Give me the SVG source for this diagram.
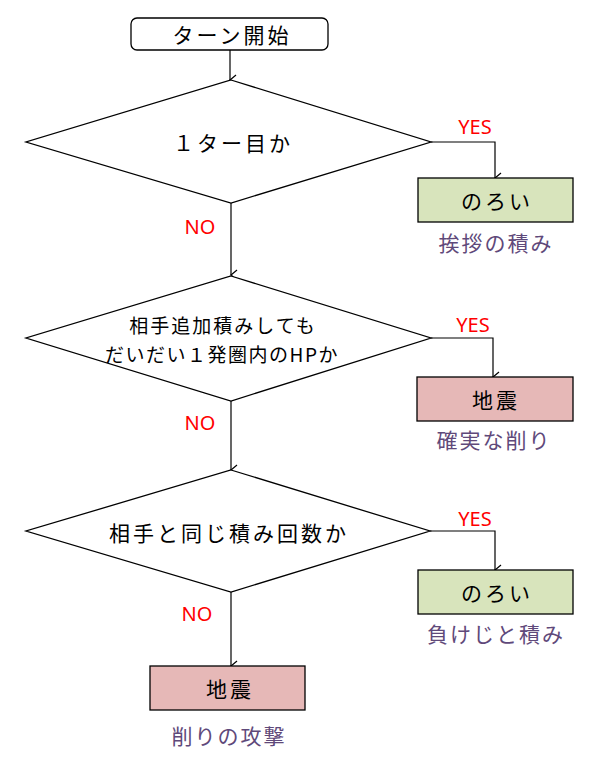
<svg xmlns="http://www.w3.org/2000/svg" width="595" height="764" viewBox="0 0 595 764">
<style>
.shape{stroke:#000;stroke-width:1.3;}
.dia{fill:#fff;}
.t{font-family:"Noto Sans CJK JP","Noto Sans",sans-serif;font-size:21px;letter-spacing:3px;fill:#000;text-anchor:middle;dominant-baseline:central;}
.sub{font-family:"Noto Sans CJK JP","Noto Sans",sans-serif;font-size:21px;letter-spacing:2px;fill:#5f497a;text-anchor:middle;dominant-baseline:central;}
.lab{font-family:"Noto Sans","Liberation Sans",sans-serif;font-size:20px;fill:#ff0000;text-anchor:middle;dominant-baseline:central;}
.con{fill:none;stroke:#000;stroke-width:1.2;marker-end:url(#ah);}
</style>
<defs>
<marker id="ah" markerWidth="12" markerHeight="12" refX="6" refY="10" orient="auto-start-reverse" markerUnits="userSpaceOnUse" viewBox="0 0 12 12">
<path d="M1,4 L6,10 L11,4" fill="none" stroke="#000" stroke-width="1.2"/>
</marker>
</defs>
<rect width="595" height="764" fill="#fff"/>
<g id="connectors">
<path class="con" d="M230,50 V80"/>
<path class="con" d="M431,142 H495 V178"/>
<path class="con" d="M231,203 V275"/>
<path class="con" d="M431,338 H493 V377"/>
<path class="con" d="M231,401 V470"/>
<path class="con" d="M430,531 H495 V570"/>
<path class="con" d="M231,592 V666"/>
<text class="lab" x="475" y="126">YES</text>
<text class="lab" x="200" y="226">NO</text>
<text class="lab" x="473" y="324">YES</text>
<text class="lab" x="200" y="422">NO</text>
<text class="lab" x="475" y="518">YES</text>
<text class="lab" x="197" y="613">NO</text>
</g>
<g id="start">
<rect class="shape" x="131" y="18" width="197" height="32" rx="6" fill="#fff"/>
<text class="t" x="232" y="34">ターン開始</text>
</g>
<g id="q1">
<polygon class="shape dia" points="231,80 431,142 231,203 26,142"/>
<text class="t" x="233" y="142">１ター目か</text>
</g>
<g id="r1">
<rect class="shape" x="418" y="178" width="155" height="44" fill="#d8e4bc"/>
<text class="t" x="497" y="200">のろい</text>
<text class="sub" x="496" y="242">挨拶の積み</text>
</g>
<g id="q2">
<polygon class="shape dia" points="231,276 431,338 231,401 26,338"/>
<text class="t" x="223" y="324" style="font-size:19px;letter-spacing:2px">相手追加積みしても</text>
<text class="t" x="222" y="353" style="font-size:19px;letter-spacing:1.5px">だいだい１発圏内のHPか</text>
</g>
<g id="r2">
<rect class="shape" x="417" y="377" width="156" height="44" fill="#e6b8b7"/>
<text class="t" x="496" y="399">地震</text>
<text class="sub" x="494" y="439">確実な削り</text>
</g>
<g id="q3">
<polygon class="shape dia" points="231,470 430,531 231,592 26,531"/>
<text class="t" x="229" y="532">相手と同じ積み回数か</text>
</g>
<g id="r3">
<rect class="shape" x="418" y="570" width="155" height="44" fill="#d8e4bc"/>
<text class="t" x="497" y="592">のろい</text>
<text class="sub" x="496" y="633">負けじと積み</text>
</g>
<g id="r4">
<rect class="shape" x="150" y="666" width="155" height="44" fill="#e6b8b7"/>
<text class="t" x="230" y="688">地震</text>
<text class="sub" x="229" y="735">削りの攻撃</text>
</g>
</svg>
